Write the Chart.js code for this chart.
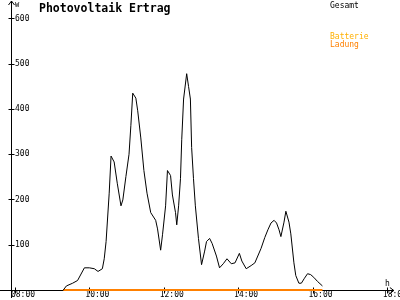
<!DOCTYPE html>
<html>
<head>
<meta charset="utf-8">
<script src="https://cdn.jsdelivr.net/npm/chart.js@4.4.1/dist/chart.umd.min.js"></script>
<style>
  html, body { margin: 0; padding: 0; background: #fff; }
  #wrap { width: 400px; height: 300px; }
</style>
</head>
<body>
<div id="wrap"><canvas id="pv" width="400" height="300"></canvas></div>
<script>
// Daten (Minuten seit Mitternacht / Watt)
var zeiten = [558,563,573,581,592,600,608,614,621,624,
  627,632,635,640,645,651,654,659,664,667,
  670,675,678,683,688,693,699,707,710,715,
  718,723,726,731,734,739,741,744,747,749,
  752,757,760,763,765,768,771,776,781,786,
  789,794,798,805,810,816,822,829,835,842,
  846,853,861,867,877,883,888,893,898,902,
  906,909,914,917,922,925,930,933,938,942,
  947,952,957,962,968,976];
var gesamt = [0,9,15,21,49,49,47,41,47,69,
  107,214,296,283,236,186,199,251,300,364,
  435,424,396,336,264,214,171,154,135,88,
  122,186,264,253,210,171,144,186,246,332,
  422,478,450,422,315,246,186,114,56,86,
  107,114,103,75,49,58,69,58,60,81,
  64,47,54,60,92,116,133,148,154,148,
  133,118,150,174,150,124,60,32,15,15,
  26,36,34,28,19,9];
var ladungZeiten = [558, 976];
var ladungWerte  = [0, 0];

var xTicks = [480, 600, 720, 840, 960, 1080];
var yTicks = [100, 200, 300, 400, 500, 600];
var titel = "Photovoltaik Ertrag";
var legende = ["Gesamt", "Batterie", "Ladung"];

var schrift = "'DejaVu Sans Mono', monospace";

function punkte(xs, ys) {
  return xs.map(function(x, i) { return { x: x, y: ys[i] }; });
}

// Achsen mit Pfeilen und Kreuz-Ticks
var achsenPlugin = {
  id: "achsen",
  beforeDatasetsDraw: function(chart) {
    var ctx = chart.ctx;
    var xs = chart.scales.x, ys = chart.scales.y;
    var y0 = Math.round(ys.getPixelForValue(0)) + 0.5;
    var x0 = Math.round(chart.chartArea.left) + 0.5;
    var r = chart.chartArea.right;
    ctx.save();
    ctx.strokeStyle = "#000";
    ctx.lineWidth = 1;
    ctx.beginPath();
    ctx.moveTo(0, y0); ctx.lineTo(r, y0);
    ctx.moveTo(r - 4, y0 - 3); ctx.lineTo(r, y0); ctx.lineTo(r - 4, y0 + 3);
    ctx.moveTo(x0, 298); ctx.lineTo(x0, 1);
    ctx.moveTo(x0 - 3, 5); ctx.lineTo(x0, 1); ctx.lineTo(x0 + 3, 5);
    xTicks.forEach(function(t) {
      var px = Math.round(xs.getPixelForValue(t)) + 0.5;
      ctx.moveTo(px, y0 - 3); ctx.lineTo(px, y0 + 3);
    });
    yTicks.forEach(function(t) {
      var py = Math.round(ys.getPixelForValue(t)) + 0.5;
      ctx.moveTo(x0 - 3, py); ctx.lineTo(x0 + 3, py);
    });
    ctx.stroke();
    ctx.restore();
  },
  afterDraw: function(chart) {
    var ctx = chart.ctx;
    ctx.save();
    ctx.textBaseline = "alphabetic";
    ctx.fillStyle = "#000";
    ctx.font = "bold 11.5px " + schrift;
    ctx.fillText(titel, 39, 12);
    ctx.font = "7px " + schrift;
    ctx.fillText("W", 15, 7);
    ctx.font = "8px " + schrift;
    ctx.fillText("h", 385, 286);
    ctx.fillText(legende[0], 330, 8);
    ctx.fillStyle = "#ffb000";
    ctx.fillText(legende[1], 330, 39);
    ctx.fillStyle = "#ff8000";
    ctx.fillText(legende[2], 330, 47);
    ctx.restore();
  }
};

new Chart(document.getElementById("pv"), {
  type: "line",
  data: {
    datasets: [{
      label: legende[0],
      data: punkte(zeiten, gesamt),
      borderColor: "#000",
      borderWidth: 1,
      pointRadius: 0,
      tension: 0,
      clip: false
    }, {
      label: legende[2],
      data: punkte(ladungZeiten, ladungWerte),
      borderColor: "#ff8000",
      borderWidth: 2,
      pointRadius: 0,
      tension: 0,
      clip: false
    }]
  },
  options: {
    responsive: false,
    animation: false,
    layout: { autoPadding: false, padding: { left: 3, right: 3, top: 0, bottom: 0 } },
    plugins: { legend: { display: false }, tooltip: { enabled: false } },
    scales: {
      x: {
        type: "linear",
        min: 473.6,
        max: 1091.2,
        afterBuildTicks: function(s) { s.ticks = xTicks.map(function(v) { return { value: v }; }); },
        grid: { display: false, drawTicks: false },
        border: { display: false },
        ticks: {
          padding: 1,
          labelOffset: 8,
          maxRotation: 0,
          autoSkip: false,
          color: "#000",
          font: { family: schrift, size: 8, lineHeight: 1 },
          callback: function(v) {
            var h = Math.floor(v / 60);
            return (h < 10 ? "0" : "") + h + ":00";
          }
        }
      },
      y: {
        min: 0,
        max: 621.43,
        afterBuildTicks: function(s) { s.ticks = yTicks.map(function(v) { return { value: v }; }); },
        grid: { display: false, drawTicks: false },
        border: { display: false },
        ticks: {
          mirror: true,
          padding: 4,
          color: "#000",
          font: { family: schrift, size: 8 }
        }
      }
    }
  },
  plugins: [achsenPlugin]
});
</script>
</body>
</html>
